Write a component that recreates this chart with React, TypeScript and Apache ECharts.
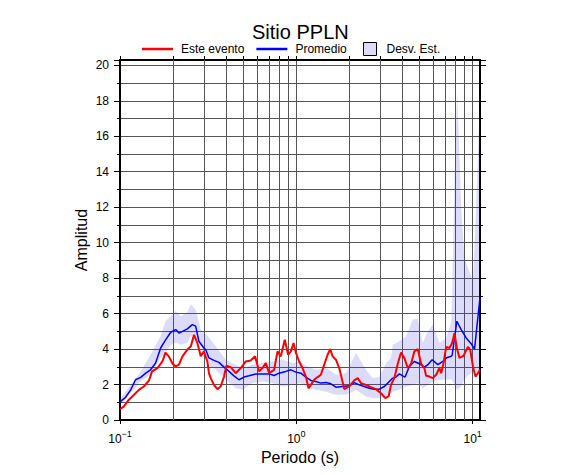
import React, { useEffect, useRef } from 'react';
import * as echarts from 'echarts';

// ---- data ----
const avgPeriods = [
  0.1, 0.1075, 0.115, 0.1225, 0.131, 0.14, 0.149, 0.159, 0.17, 0.181,
  0.194, 0.207, 0.216, 0.226, 0.241, 0.257, 0.2685, 0.28, 0.299, 0.306,
  0.3195, 0.341, 0.364, 0.389, 0.415, 0.443, 0.473, 0.505, 0.539, 0.589,
  0.643, 0.701, 0.748, 0.7985, 0.8715, 0.931, 0.994, 1.061, 1.132, 1.209,
  1.29, 1.378, 1.471, 1.57, 1.677, 1.831, 1.995, 2.13, 2.274, 2.428,
  2.592, 2.767, 2.954, 3.154, 3.225, 3.367, 3.52, 3.675, 3.838, 4.012,
  4.135, 4.374, 4.67, 4.985, 5.322, 5.565, 5.887, 6.343, 6.772, 7.07,
  7.547, 7.647, 8.132, 8.604, 9.186, 9.806, 10.24, 11,
];
const avgValues = [
  1.02, 1.28, 1.7, 2.27, 2.4, 2.64, 2.83, 3.2, 4.06, 4.5,
  4.95, 5.1, 4.9, 5.0, 5.14, 5.38, 5.29, 4.44, 4.06, 3.97,
  3.5, 3.36, 3.25, 2.98, 2.74, 2.49, 2.27, 2.42, 2.49, 2.59,
  2.59, 2.6, 2.51, 2.64, 2.74, 2.83, 2.7, 2.64, 2.42, 2.23,
  2.17, 2.08, 2.11, 2.04, 1.85, 1.89, 1.93, 2.11, 1.98, 1.89,
  1.79, 1.74, 1.74, 1.89, 1.98, 2.17, 2.36, 2.42, 2.6, 2.49,
  2.42, 3.02, 3.3, 3.17, 2.98, 3.12, 3.4, 3.12, 3.3, 3.5,
  3.59, 3.65, 5.57, 5.1, 4.63, 4.3, 4.0, 6.9,
];

const eventPeriods = [
  0.1, 0.105, 0.112, 0.12, 0.128, 0.1365, 0.146, 0.152, 0.163, 0.174,
  0.181, 0.189, 0.198, 0.207, 0.216, 0.226, 0.241, 0.252, 0.263, 0.2745,
  0.287, 0.299, 0.313, 0.3195, 0.327, 0.341, 0.357, 0.372, 0.389, 0.401,
  0.4245, 0.453, 0.484, 0.5165, 0.551, 0.583, 0.615, 0.643, 0.671, 0.701,
  0.748, 0.782, 0.816, 0.86, 0.898, 0.931, 0.964, 0.994, 1.037, 1.084,
  1.132, 1.173, 1.209, 1.262, 1.32, 1.378, 1.439, 1.504, 1.556, 1.606,
  1.677, 1.751, 1.814, 1.869, 1.995, 2.13, 2.227, 2.325, 2.483, 2.65,
  2.829, 3.021, 3.195, 3.341, 3.442, 3.594, 3.758, 3.925, 4.097, 4.283,
  4.473, 4.67, 4.882, 5.098, 5.322, 5.442, 5.682, 5.941, 6.203, 6.477,
  6.622, 6.825, 7.07, 7.382, 7.647, 7.881, 8.132, 8.414, 8.866, 9.391,
  9.678, 10.03, 10.37, 10.7, 11,
];
const eventValues = [
  0.62, 0.75, 1.13, 1.42, 1.7, 1.89, 2.23, 2.74, 2.93, 3.3,
  3.8, 3.59, 3.2, 3.02, 3.12, 3.59, 3.97, 4.15, 4.8, 4.35,
  3.59, 3.87, 3.3, 2.64, 2.36, 1.98, 1.74, 1.89, 2.45, 3.06,
  2.98, 2.64, 2.93, 3.3, 3.36, 3.59, 2.74, 2.93, 3.21, 2.64,
  2.83, 3.87, 3.59, 4.53, 3.68, 3.87, 4.34, 3.8, 3.3, 2.93,
  2.45, 1.79, 1.98, 2.27, 2.42, 2.55, 3.12, 3.68, 4.0, 3.59,
  3.4, 2.93, 2.3, 1.74, 1.89, 2.23, 2.36, 2.08, 1.98, 1.85,
  1.74, 1.51, 1.23, 1.35, 1.98, 2.36, 3.17, 3.81, 3.5, 2.93,
  3.17, 3.87, 4.0, 3.17, 2.93, 2.49, 2.45, 2.36, 2.55, 2.93,
  2.64, 3.17, 4.12, 4.06, 4.34, 4.9, 4.06, 3.5, 3.62, 4.12,
  3.97, 3.02, 2.45, 2.64, 2.83,
];

const bandPeriods = [
  0.1, 0.115, 0.131, 0.149, 0.17, 0.181, 0.194, 0.207, 0.221, 0.241,
  0.252, 0.2685, 0.287, 0.306, 0.327, 0.349, 0.398, 0.453, 0.495, 0.564,
  0.643, 0.732, 0.835, 0.9515, 1.061, 1.132, 1.29, 1.471, 1.677, 1.911,
  2.086, 2.178, 2.325, 2.483, 2.71, 2.954, 3.225, 3.442, 3.52, 3.838,
  4.19, 4.573, 4.882, 5.212, 5.565, 5.941, 6.477, 7.07, 7.547, 7.647,
  7.881, 8.164, 8.604, 8.983, 9.391, 10.03, 10.37, 10.93, 11,
];
const bandLow = [
  0.85, 1.51, 2.17, 2.55, 3.5, 3.78, 4.25, 4.35, 4.25, 4.35,
  4.72, 4.72, 4.15, 3.59, 3.02, 2.83, 2.27, 1.79, 1.7, 2.08,
  2.17, 2.08, 1.89, 1.98, 2.08, 1.89, 1.7, 1.6, 1.42, 1.42,
  1.6, 1.7, 1.51, 1.32, 1.23, 1.23, 1.4, 1.51, 1.6, 1.7,
  1.89, 1.98, 2.08, 1.79, 1.98, 2.17, 2.27, 2.27, 2.3, 2.25,
  2.0, 1.7, 1.9, 2.3, 2.5, 2.7, 2.8, 2.5, 2.5,
];
const bandHigh = [
  1.2, 1.98, 2.74, 3.68, 4.72, 5.57, 5.85, 6.14, 5.85, 6.08,
  6.52, 6.23, 5.1, 4.85, 4.53, 4.15, 3.4, 3.12, 2.93, 3.12,
  3.21, 3.3, 3.4, 3.21, 3.3, 3.06, 2.83, 2.93, 2.55, 2.64,
  3.4, 3.78, 3.3, 2.83, 2.36, 2.42, 3.2, 3.5, 4.25, 4.44,
  4.72, 5.67, 5.7, 4.34, 5.0, 5.38, 4.34, 4.63, 5.5, 7.0,
  13.5, 18.6, 12.0, 9.06, 8.6, 7.8, 11, 17.5, 17.5,
];

// grid / tick positions on the period axis
const minorGridPeriods = [0.2, 0.3, 0.4, 0.5, 0.6, 0.7, 0.8, 0.9, 2, 3, 4, 5, 6, 7, 8, 9];
const topTickPeriods = [0.1, 0.2, 0.3, 0.4, 0.5, 0.6, 0.7, 0.8, 0.9, 1, 2, 3, 4, 5, 6, 7, 8, 9, 10];

const TITLE = 'Sitio PPLN';
const X_NAME = 'Periodo (s)';
const Y_NAME = 'Amplitud';
const NAME_EVENT = 'Este evento';
const NAME_AVG = 'Promedio';
const NAME_SD = 'Desv. Est.';

const FONT = '"Liberation Sans", Arial, Helvetica, sans-serif';
const GRID_COLOR = '#555555';
const BAND_COLOR = 'rgba(60,60,230,0.18)';
const BAND_LEGEND = 'rgb(220,220,250)';
const X_MIN = 0.1;
const X_MAX = 11;
const Y_MAX = 20.3;

const logLabel = (v: number) => {
  const e = Math.round(Math.log10(v));
  if (Math.abs(v - Math.pow(10, e)) > 1e-6 * v) return '';
  return `{m|10}{s|${e < 0 ? '\u2212' : ''}${Math.abs(e)}}`;
};
const evenLabel = (v: number) => (Math.abs(v % 2) < 1e-9 ? String(v) : '');

export default function App() {
  const ref = useRef<HTMLDivElement>(null);
  useEffect(() => {
    document.body.style.margin = '0';
    if (!ref.current) return;
    const chart = echarts.init(ref.current, null, { renderer: 'svg' });

    const yCommon = { type: 'value', min: 0, max: Y_MAX };
    const option: any = {
      animation: false,
      title: {
        text: TITLE,
        left: 252,
        top: 22,
        padding: 0,
        textStyle: { fontSize: 20, fontWeight: 'normal', color: '#000', fontFamily: FONT },
      },
      legend: [
        {
          data: [NAME_EVENT, NAME_AVG],
          left: 142,
          top: 43,
          padding: 0,
          itemWidth: 31,
          itemHeight: 2.5,
          itemGap: 12,
          icon: 'rect',
          selectedMode: false,
          textStyle: { fontSize: 12, color: '#000', fontFamily: FONT, padding: [0, 0, 0, 3] },
        },
        {
          data: [{ name: NAME_SD, itemStyle: { color: BAND_LEGEND, borderColor: '#000', borderWidth: 1 } }],
          left: 363,
          top: 42,
          padding: 0,
          itemWidth: 13,
          itemHeight: 13,
          icon: 'rect',
          selectedMode: false,
          textStyle: { fontSize: 12, color: '#000', fontFamily: FONT, padding: [0, 0, 0, 5] },
        },
      ],
      grid: { left: 120, right: 106, top: 60, bottom: 55, containLabel: false },
      xAxis: [
        {
          type: 'log',
          logBase: 10,
          min: X_MIN,
          max: X_MAX,
          position: 'bottom',
          name: X_NAME,
          nameLocation: 'middle',
          nameGap: 27,
          nameTextStyle: { fontSize: 16, color: '#000', fontFamily: FONT },
          axisLine: { show: true, onZero: false, lineStyle: { color: '#000', width: 2 } },
          axisTick: { show: true, inside: false, length: 4, lineStyle: { color: '#000' } },
          axisLabel: {
            formatter: logLabel,
            margin: 9,
            showMaxLabel: false,
            rich: {
              m: { fontSize: 12, fontFamily: FONT, color: '#000', lineHeight: 16, verticalAlign: 'bottom' },
              s: { fontSize: 9, fontFamily: FONT, color: '#000', lineHeight: 9, verticalAlign: 'top' },
            },
          },
          splitLine: { show: true, lineStyle: { color: GRID_COLOR, width: 1 } },
        },
        {
          type: 'log',
          logBase: 10,
          min: X_MIN,
          max: X_MAX,
          position: 'top',
          axisLine: { show: true, onZero: false, lineStyle: { color: '#000', width: 2 } },
          axisTick: { show: true, inside: false, length: 4, customValues: topTickPeriods, lineStyle: { color: '#000' } },
          axisLabel: { show: false },
          splitLine: { show: false },
        },
      ],
      yAxis: [
        {
          ...yCommon,
          interval: 1,
          position: 'left',
          name: Y_NAME,
          nameLocation: 'middle',
          nameGap: 31,
          nameTextStyle: { fontSize: 16, color: '#000', fontFamily: FONT },
          axisLine: { show: true, lineStyle: { color: '#000', width: 2 } },
          axisTick: { show: true, inside: false, length: 3, lineStyle: { color: '#000' } },
          axisLabel: { show: false },
          splitLine: { show: true, lineStyle: { color: GRID_COLOR, width: 1 } },
        },
        {
          ...yCommon,
          interval: 2,
          position: 'left',
          axisLine: { show: false },
          axisTick: { show: true, inside: false, length: 6, lineStyle: { color: '#000' } },
          axisLabel: { formatter: evenLabel, fontSize: 12, color: '#000', fontFamily: FONT, margin: 11, showMaxLabel: true },
          splitLine: { show: false },
        },
        {
          ...yCommon,
          interval: 1,
          position: 'right',
          axisLine: { show: true, lineStyle: { color: '#000', width: 2 } },
          axisTick: { show: true, inside: false, length: 3, lineStyle: { color: '#000' } },
          axisLabel: { show: false },
          splitLine: { show: false },
        },
        {
          ...yCommon,
          interval: 2,
          position: 'right',
          axisLine: { show: false },
          axisTick: { show: true, inside: false, length: 6, lineStyle: { color: '#000' } },
          axisLabel: { show: false },
          splitLine: { show: false },
        },
      ],
      series: [
        {
          name: NAME_SD,
          type: 'custom',
          silent: true,
          z: 2,
          color: BAND_LEGEND,
          itemStyle: { color: BAND_LEGEND },
          data: [[bandPeriods[0], bandLow[0]]],
          encode: { x: 0, y: 1 },
          renderItem: (params: any, api: any) => {
            if (params.dataIndex !== 0) return null;
            const upper = bandPeriods.map((p, i) => api.coord([p, bandHigh[i]]));
            const lower = bandPeriods.map((p, i) => api.coord([p, bandLow[i]])).reverse();
            return {
              type: 'polygon',
              shape: { points: upper.concat(lower) },
              style: { fill: BAND_COLOR, stroke: 'none' },
              silent: true,
            };
          },
        },
        {
          name: NAME_AVG,
          type: 'line',
          symbol: 'none',
          z: 3,
          color: '#0000ff',
          lineStyle: { width: 1.5, color: '#0000ff' },
          emphasis: { disabled: true },
          data: avgPeriods.map((p, i) => [p, avgValues[i]]),
          markLine: {
            silent: true,
            z: 1,
            symbol: ['none', 'none'],
            label: { show: false },
            emphasis: { disabled: true },
            lineStyle: { color: GRID_COLOR, width: 1, type: 'solid' },
            data: minorGridPeriods.map((p) => ({ xAxis: p })),
          },
        },
        {
          name: NAME_EVENT,
          type: 'line',
          symbol: 'none',
          z: 4,
          color: '#ff0000',
          lineStyle: { width: 2, color: '#ff0000' },
          emphasis: { disabled: true },
          data: eventPeriods.map((p, i) => [p, eventValues[i]]),
        },
      ],
    };
    chart.setOption(option);
    return () => chart.dispose();
  }, []);

  return <div ref={ref} style={{ width: 586, height: 475 }} />;
}
